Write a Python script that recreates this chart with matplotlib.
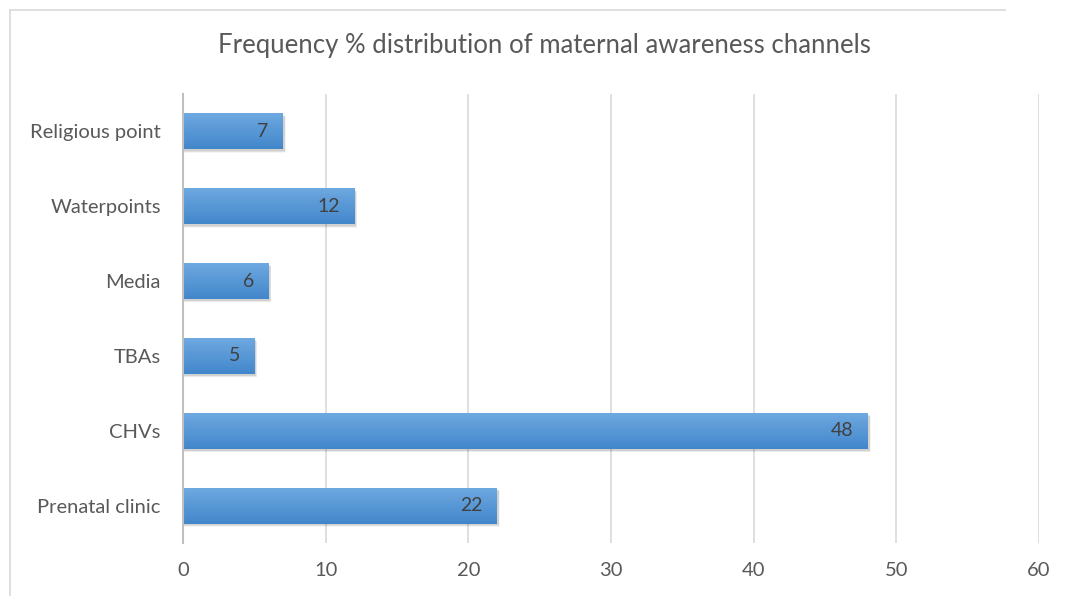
import matplotlib
matplotlib.use("Agg")
import matplotlib.pyplot as plt
import numpy as np
from matplotlib.patches import Rectangle
from matplotlib.lines import Line2D

categories = ["Prenatal clinic", "CHVs", "TBAs", "Media", "Waterpoints", "Religious point"]
values = [22, 48, 5, 6, 12, 7]
xticks = [0, 10, 20, 30, 40, 50, 60]
title = "Frequency % distribution of maternal awareness channels"

plt.rcParams['font.family'] = ['Lato', 'DejaVu Sans']

fig = plt.figure(figsize=(10.67, 5.96), dpi=100)
ax = fig.add_axes([183/1067, 1-543/596, (1039-183)/1067, (543-94)/596])

bar_h = 0.48
y = np.arange(len(categories))

top_c = np.array([0x6e, 0xa9, 0xe0]) / 255
bot_c = np.array([0x42, 0x86, 0xcb]) / 255
t = np.linspace(0, 1, 64)[:, None]
grad = (top_c[None, :] * (1 - t) + bot_c[None, :] * t)[:, None, :]

for yi, v in zip(y, values):
    for k, a in enumerate([0.05, 0.06, 0.07, 0.08]):
        off = 0.02 * (k + 1)
        ax.add_patch(Rectangle((0, yi - bar_h/2 - 0.05 + off*0.3), v + 0.12 + 0.08*(3-k)*0.3, bar_h,
                               facecolor="#404040", edgecolor="none", alpha=a, zorder=2))
    ax.imshow(grad, extent=(0, v, yi - bar_h/2, yi + bar_h/2), aspect="auto",
              origin="upper", zorder=3, interpolation="bilinear")
    ax.text(v - 1.0, yi, str(v), ha="right", va="center", fontsize=14,
            color="#404040", zorder=4)

ax.set_xlim(0, 60)
ax.set_ylim(-0.5, 5.5)
ax.set_xticks(xticks)
ax.set_xticklabels([str(x) for x in xticks])
ax.set_yticks(y)
ax.set_yticklabels(categories)
ax.tick_params(axis="both", length=0, labelsize=14.5, colors="#595959")
ax.tick_params(axis="y", pad=16)
ax.tick_params(axis="x", pad=14)
ax.grid(axis="x", color="#d9d9d9", linewidth=1.2)
ax.set_axisbelow(True)
for s in ["top", "right", "bottom"]:
    ax.spines[s].set_visible(False)
ax.spines["left"].set_color("#bfbfbf")
ax.spines["left"].set_linewidth(1.5)
ax.spines["left"].set_zorder(5)

fig.text(544/1067, 1-46/596, title, ha="center", va="center", fontsize=18.5,
         color="#595959")

fig.add_artist(Line2D([10/1067, 1005/1067], [1-10/596, 1-10/596], color="#d9d9d9", linewidth=1.2))
fig.add_artist(Line2D([10/1067, 10/1067], [0, 1-10/596], color="#d9d9d9", linewidth=1.2))

fig.savefig("out.png", dpi=100)
